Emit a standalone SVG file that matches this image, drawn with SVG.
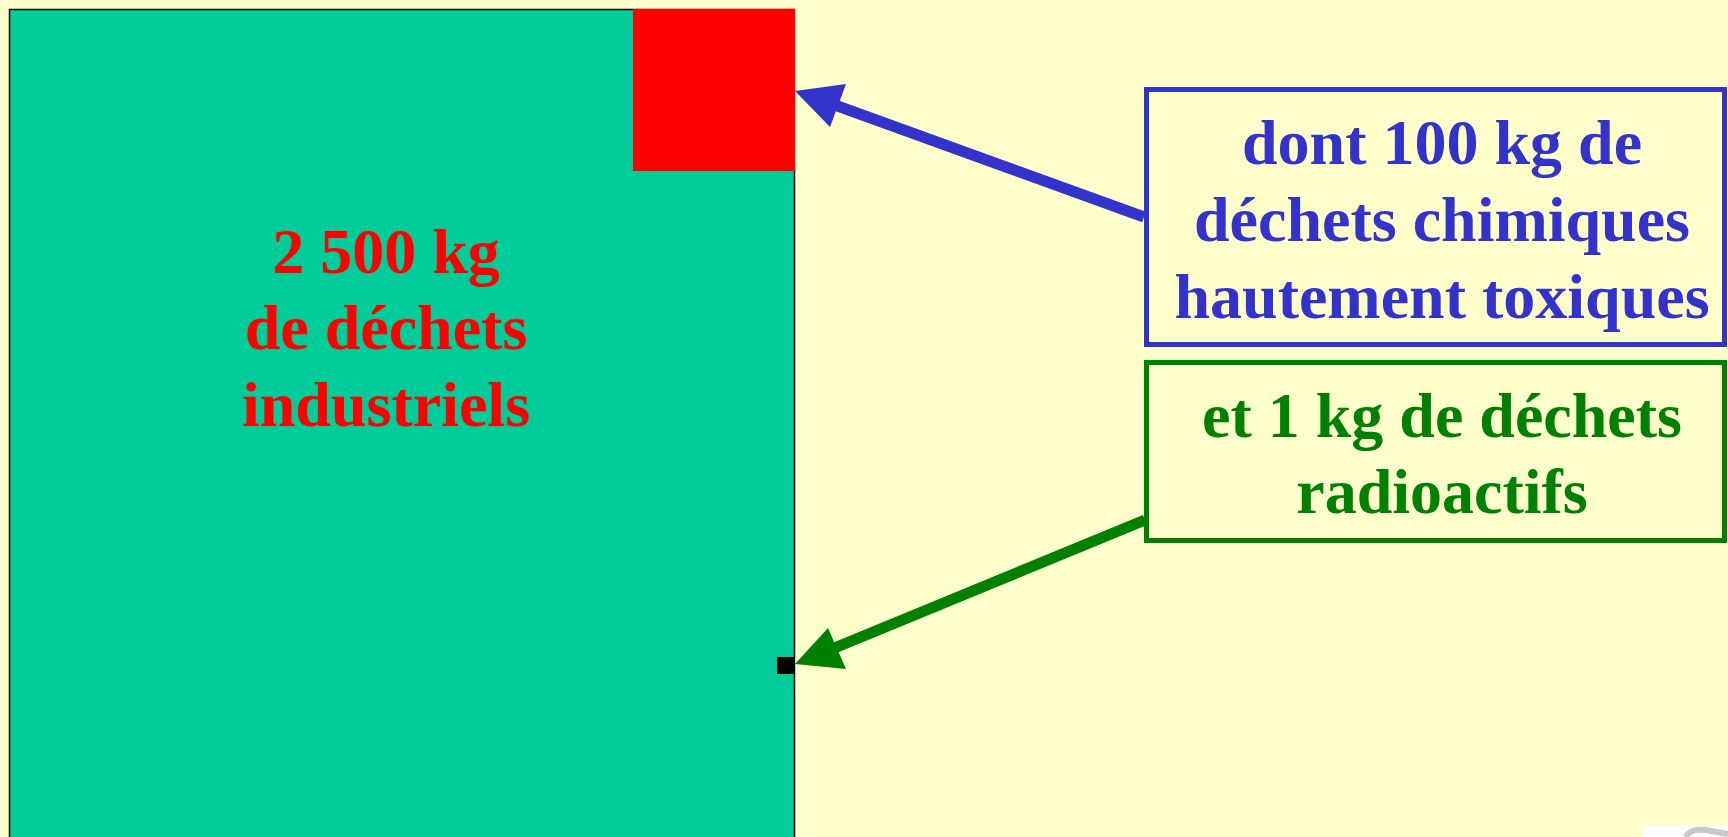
<svg xmlns="http://www.w3.org/2000/svg" width="1728" height="837" viewBox="0 0 1728 837">
<style>
.t{font-family:"Liberation Serif","Times New Roman",serif;font-weight:bold;font-size:64px;text-anchor:middle}
.conn{stroke-width:11}
</style>
<rect x="0" y="0" width="1728" height="837" fill="#FFFFCC"/>
<g id="industriels">
<rect x="9.5" y="9.5" width="785" height="840" fill="#00CC99" stroke="#000" stroke-width="1.5"/>
<text class="t" x="386" y="273" fill="#FF0000">2 500 kg</text>
<text class="t" x="386" y="349" fill="#FF0000">de déchets</text>
<text class="t" x="386" y="426" fill="#FF0000">industriels</text>
</g>
<g id="chimiques-zone">
<rect x="633" y="9" width="162" height="162" fill="#FF0000"/>
</g>
<g id="radioactifs-zone">
<rect x="777" y="657" width="18" height="17" fill="#000"/>
</g>
<g id="box-chimiques">
<rect x="1146.5" y="89.5" width="578" height="255" fill="none" stroke="#3333CC" stroke-width="5"/>
<text class="t" x="1442" y="164" fill="#3333CC">dont 100 kg de</text>
<text class="t" x="1442" y="241" fill="#3333CC">déchets chimiques</text>
<text class="t" x="1442" y="318" fill="#3333CC">hautement toxiques</text>
</g>
<g id="box-radioactifs">
<rect x="1146.5" y="362.5" width="578" height="178" fill="none" stroke="#008000" stroke-width="5"/>
<text class="t" x="1442" y="437" fill="#008000">et 1 kg de déchets</text>
<text class="t" x="1442" y="513" fill="#008000">radioactifs</text>
</g>
<g id="connectors">
<line class="conn" x1="1144" y1="217" x2="832" y2="104" stroke="#3333CC"/>
<polygon points="795,91 846,84 830,127" fill="#3333CC"/>
<line class="conn" x1="1145" y1="520" x2="832" y2="649" stroke="#008000"/>
<polygon points="795,664 828,628 846,669" fill="#008000"/>
</g>
<g id="corner">
<rect x="1642" y="825" width="86" height="12" fill="#FFFFFF"/>
<path d="M1686,837 Q1690,828 1706,830 L1728,834" fill="none" stroke="#C8C8C8" stroke-width="6"/>
</g>
</svg>
